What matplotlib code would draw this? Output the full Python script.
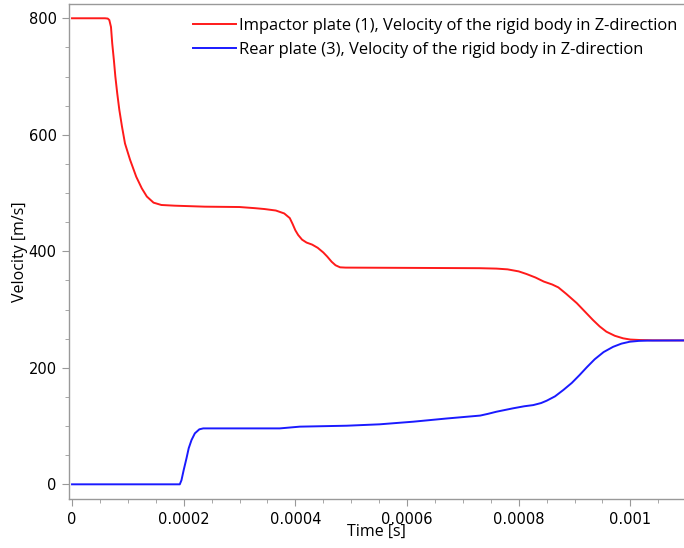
import matplotlib
matplotlib.use("Agg")
import matplotlib.pyplot as plt
from matplotlib.ticker import MultipleLocator, FuncFormatter

# Impactor plate (1) velocity
t_impactor = [0.0, 5.9e-5, 6.4e-5, 6.68e-5, 6.98e-5, 7.2e-5, 7.5e-5, 7.76e-5, 8.1e-5,
              8.47e-5, 8.95e-5, 9.49e-5, 1.04e-4, 1.15e-4, 1.25e-4, 1.34e-4, 1.46e-4,
              1.6e-4, 1.84e-4, 2.38e-4, 3.0e-4, 3.28e-4, 3.45e-4, 3.65e-4, 3.8e-4,
              3.9e-4, 3.95e-4, 4.0e-4, 4.05e-4, 4.12e-4, 4.2e-4, 4.3e-4, 4.4e-4,
              4.5e-4, 4.57e-4, 4.65e-4, 4.72e-4, 4.8e-4, 4.9e-4, 7.3e-4, 7.6e-4,
              7.8e-4, 8.0e-4, 8.14e-4, 8.3e-4, 8.45e-4, 8.6e-4, 8.71e-4, 8.85e-4,
              9.04e-4, 9.2e-4, 9.33e-4, 9.45e-4, 9.57e-4, 9.72e-4, 9.87e-4, 1.0e-3,
              1.017e-3, 1.04e-3, 1.1e-3]
v_impactor = [800, 800, 799.5, 797, 785, 757, 728, 700, 671,
              643, 614, 585, 557, 528, 508, 494, 483.5,
              479.5, 478.3, 476.6, 476, 474, 472.5, 470, 465,
              457, 447, 436, 428, 420, 415, 411.5, 406,
              398, 391, 382, 376, 372.5, 372, 371, 370.3,
              369, 365.5, 361, 355, 348, 343, 338, 327,
              311, 295, 282, 271, 262, 255, 250.6, 248.5,
              247.7, 247.2, 247]

# Rear plate (3) velocity
t_rear = [0.0, 1.93e-4, 1.96e-4, 2.0e-4, 2.05e-4, 2.09e-4, 2.14e-4, 2.2e-4, 2.28e-4,
          2.35e-4, 3.72e-4, 4.08e-4, 4.92e-4, 5.51e-4, 6.11e-4, 6.71e-4, 7.31e-4,
          7.45e-4, 7.6e-4, 7.9e-4, 8.1e-4, 8.26e-4, 8.4e-4, 8.5e-4, 8.65e-4,
          8.8e-4, 8.95e-4, 9.09e-4, 9.22e-4, 9.36e-4, 9.52e-4, 9.69e-4, 9.84e-4,
          9.99e-4, 1.015e-3, 1.03e-3, 1.1e-3]
v_rear = [0, 0, 7, 24.5, 44.6, 62, 76, 87.5, 94.4,
          96, 96, 99, 100.6, 103, 107.5, 113, 118,
          121, 124.6, 130.5, 134, 136, 139.5, 143.5, 151,
          162, 174, 187.6, 201, 214.6, 227, 236, 241.5,
          244.8, 246.2, 246.7, 247]

labels = ["Impactor plate (1), Velocity of the rigid body in Z-direction",
          "Rear plate (3), Velocity of the rigid body in Z-direction"]

fig = plt.figure(figsize=(6.84, 5.48), dpi=100)
ax = fig.add_axes([69 / 684, 49 / 548, 615 / 684, 495 / 548])

ax.plot(t_impactor, v_impactor, color="#ff1a1a", lw=1.4, label=labels[0],
        solid_joinstyle="round")
ax.plot(t_rear, v_rear, color="#1a1aff", lw=1.4, label=labels[1],
        solid_joinstyle="round")

ax.set_xlim(-5.4e-6, 1.096e-3)
ax.set_ylim(-25.2, 824.5)

ax.xaxis.set_major_locator(MultipleLocator(0.0002))
ax.xaxis.set_minor_locator(MultipleLocator(0.00005))
ax.yaxis.set_major_locator(MultipleLocator(200))
ax.yaxis.set_minor_locator(MultipleLocator(50))
ax.xaxis.set_major_formatter(FuncFormatter(lambda x, p: "0" if abs(x) < 1e-12 else f"{x:g}"))

for side in ["left", "bottom", "top"]:
    ax.spines[side].set_color("#999999")
    ax.spines[side].set_linewidth(1.0)
ax.spines["right"].set_visible(False)

ax.tick_params(which="major", direction="out", length=5, color="#999999",
               labelsize=10.5, labelcolor="black", pad=4)
ax.tick_params(which="minor", direction="out", length=3, color="#999999")

lab_font = dict(family="Open Sans", size=11.5)
ax.set_xlabel("Time [s]", fontdict=lab_font, labelpad=-2)
ax.set_ylabel("Velocity [m/s]", fontdict=lab_font, labelpad=0)

leg = ax.legend(loc="upper left", bbox_to_anchor=(193 / 684, 1 - 18 / 548),
                bbox_transform=fig.transFigure, frameon=False,
                prop={"family": "Open Sans", "size": 11.9},
                handlelength=2.6, handletextpad=0.2, borderpad=0,
                borderaxespad=0, labelspacing=0.5)

fig.savefig("out.png", dpi=100)
